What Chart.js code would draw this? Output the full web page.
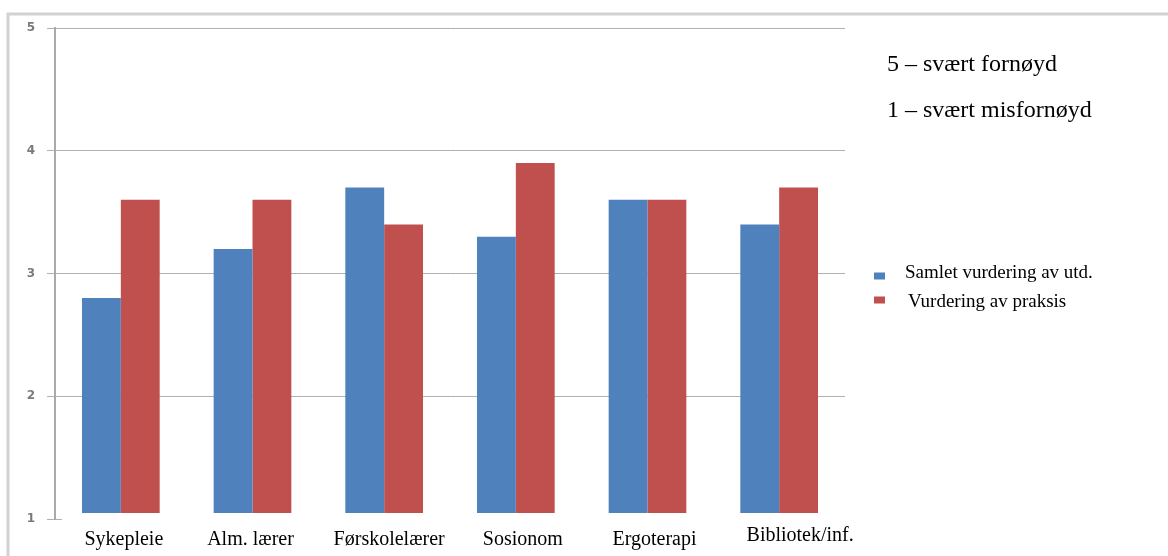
<!DOCTYPE html>
<html>
<head>
<meta charset="utf-8">
<script src="https://cdn.jsdelivr.net/npm/chart.js@4.4.1/dist/chart.umd.min.js"></script>
<style>
  html, body { margin: 0; padding: 0; background: #fff; }
  canvas { display: block; }
</style>
</head>
<body>
<canvas id="c" width="1168" height="556"></canvas>
<script>
// Study programmes and average ratings (scale 1–5)
const programmes = ['Sykepleie', 'Alm. lærer', 'Førskolelærer', 'Sosionom', 'Ergoterapi', 'Bibliotek/inf.'];
const overallRating = [2.8, 3.2, 3.7, 3.3, 3.6, 3.4];
const placementRating = [3.6, 3.6, 3.4, 3.9, 3.6, 3.7];
const seriesNames = ['Samlet vurdering av utd.', 'Vurdering av praksis'];
const scaleNotes = ['5 – svært fornøyd', '1 – svært misfornøyd'];
const yMin = 1, yMax = 5, yStep = 1;

// Small horizontal nudges for the category captions (layout only)
const captionNudge = [3, -2, 5, 7, 7, 21];
const captionLift = [0, 0, 0, 0, 0, 4];

const BLUE = '#4F81BD';
const RED = '#C0504D';
const SERIF = '"Liberation Serif", "Times New Roman", serif';

const decor = {
  id: 'decor',
  beforeDraw(chart) {
    const ctx = chart.ctx;
    ctx.save();
    ctx.strokeStyle = '#d2d2d2';
    ctx.lineWidth = 3;
    ctx.beginPath();
    ctx.moveTo(8, 556);
    ctx.lineTo(8, 14);
    ctx.lineTo(1168, 14);
    ctx.stroke();
    ctx.restore();
  },
  afterDatasetsDraw(chart) {
    const ctx = chart.ctx;
    const xs = chart.scales.x;
    const area = chart.chartArea;
    ctx.save();
    // white caption strip over the foot of the bars
    ctx.fillStyle = '#fff';
    ctx.fillRect(62, area.bottom - 6, 810, 556 - area.bottom + 6);

    // category captions
    ctx.fillStyle = '#000';
    ctx.font = '20px ' + SERIF;
    ctx.textAlign = 'center';
    ctx.textBaseline = 'alphabetic';
    programmes.forEach((p, i) => {
      ctx.fillText(p, xs.getPixelForValue(i) + captionNudge[i], 545 - captionLift[i]);
    });

    // legend
    const ds = chart.data.datasets;
    ctx.textAlign = 'left';
    ctx.textBaseline = 'middle';
    ctx.font = '19px ' + SERIF;
    const legendRows = [{ y: 276, ty: 273, tx: 905 }, { y: 300, ty: 302, tx: 908 }];
    ds.forEach((d, i) => {
      const r = legendRows[i];
      ctx.fillStyle = d.backgroundColor;
      ctx.fillRect(874, r.y - 3.5, 11, 7);
      ctx.fillStyle = '#000';
      ctx.fillText(d.label, r.tx, r.ty);
    });

    // scale explanation
    ctx.font = '24px ' + SERIF;
    ctx.fillStyle = '#000';
    ctx.fillText(scaleNotes[0], 887, 65);
    ctx.fillText(scaleNotes[1], 887, 111);
    ctx.restore();
  }
};

new Chart(document.getElementById('c'), {
  type: 'bar',
  data: {
    labels: programmes,
    datasets: [
      { label: seriesNames[0], data: overallRating, backgroundColor: BLUE },
      { label: seriesNames[1], data: placementRating, backgroundColor: RED }
    ]
  },
  options: {
    responsive: false,
    animation: false,
    events: [],
    datasets: { bar: { categoryPercentage: 0.59, barPercentage: 1.0 } },
    layout: { padding: { left: 0, right: 323, top: 28, bottom: 37 } },
    plugins: { legend: { display: false }, tooltip: { enabled: false } },
    scales: {
      x: { display: false },
      y: {
        min: yMin,
        max: yMax,
        afterFit(scale) { scale.width = 55; },
        ticks: {
          stepSize: yStep,
          padding: 12,
          color: '#7a7a7a',
          font: { family: '"DejaVu Sans", sans-serif', size: 12, weight: 'bold' }
        },
        grid: { color: '#b0b0b0', lineWidth: 1, tickLength: 8 },
        border: { color: '#aaaaaa', width: 2 }
      }
    }
  },
  plugins: [decor]
});
</script>
</body>
</html>
